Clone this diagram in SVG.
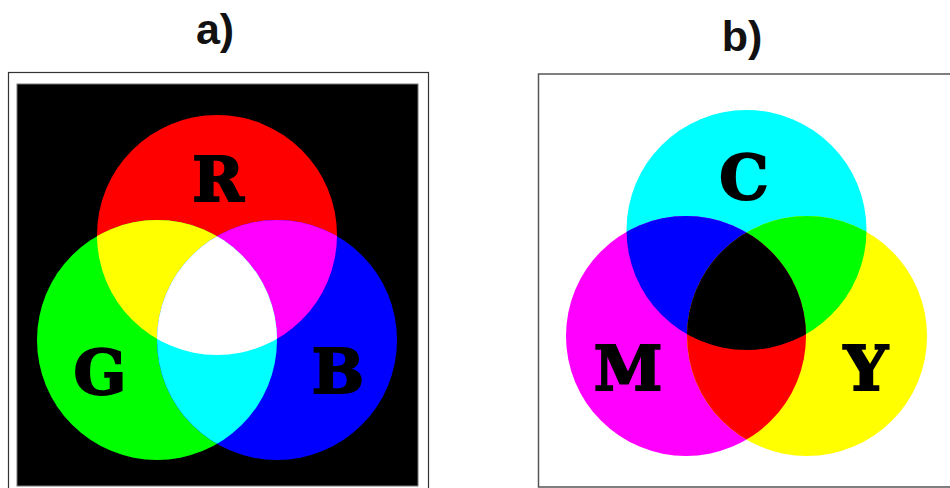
<svg xmlns="http://www.w3.org/2000/svg" width="950" height="488" viewBox="0 0 950 488">
<style>
.title{font-family:"Liberation Sans",Arial,sans-serif;font-weight:bold;font-size:43px;fill:#111;text-anchor:middle}
.lbl{font-family:"DejaVu Serif",serif;font-weight:bold;font-size:62px;fill:#000;stroke:#000;stroke-width:2;stroke-linejoin:miter;text-anchor:middle}
</style>
<defs>
<clipPath id="cR"><circle cx="217" cy="235" r="120"/></clipPath>
<clipPath id="cG"><circle cx="157" cy="340" r="120"/></clipPath>
<clipPath id="cC"><circle cx="746.5" cy="230" r="120"/></clipPath>
<clipPath id="cM"><circle cx="686" cy="336" r="120"/></clipPath>
</defs>
<rect width="950" height="488" fill="#fff"/>
<g id="panel-a">
<text class="title" x="215" y="44">a)</text>
<rect x="8.5" y="72.5" width="420" height="420" fill="#fff" stroke="#333" stroke-width="1.2"/>
<rect x="17" y="84" width="401" height="402" fill="#000" stroke="#777" stroke-width="1"/>
<g id="red"><circle cx="217" cy="235" r="120" fill="#ff0000"/></g>
<g id="green"><circle cx="157" cy="340" r="120" fill="#00ff00"/></g>
<g id="blue"><circle cx="277" cy="340" r="120" fill="#0000ff"/></g>
<g id="yellow-overlap" clip-path="url(#cR)"><circle cx="157" cy="340" r="120" fill="#ffff00"/></g>
<g id="magenta-overlap" clip-path="url(#cR)"><circle cx="277" cy="340" r="120" fill="#ff00ff"/></g>
<g id="cyan-overlap" clip-path="url(#cG)"><circle cx="277" cy="340" r="120" fill="#00ffff"/></g>
<g id="white-overlap" clip-path="url(#cR)"><g clip-path="url(#cG)"><circle cx="277" cy="340" r="120" fill="#ffffff"/></g></g>
<text class="lbl" x="218" y="201">R</text>
<text class="lbl" x="100" y="394">G</text>
<text class="lbl" x="338" y="393">B</text>
</g>
<g id="panel-b">
<text class="title" x="742" y="51">b)</text>
<rect x="538.5" y="74" width="420" height="413" fill="#fff" stroke="#555" stroke-width="1.5"/>
<g id="cyan"><circle cx="746.5" cy="230" r="120" fill="#00ffff"/></g>
<g id="magenta"><circle cx="686" cy="336" r="120" fill="#ff00ff"/></g>
<g id="yellow"><circle cx="807" cy="336" r="120" fill="#ffff00"/></g>
<g id="blue-overlap" clip-path="url(#cC)"><circle cx="686" cy="336" r="120" fill="#0000ff"/></g>
<g id="green-overlap" clip-path="url(#cC)"><circle cx="807" cy="336" r="120" fill="#00ff00"/></g>
<g id="red-overlap" clip-path="url(#cM)"><circle cx="807" cy="336" r="120" fill="#ff0000"/></g>
<g id="black-overlap" clip-path="url(#cC)"><g clip-path="url(#cM)"><circle cx="807" cy="336" r="120" fill="#000000"/></g></g>
<text class="lbl" x="744" y="199">C</text>
<text class="lbl" x="628" y="390">M</text>
<text class="lbl" x="866" y="390">Y</text>
</g>
<g id="connectors"/>
</svg>
